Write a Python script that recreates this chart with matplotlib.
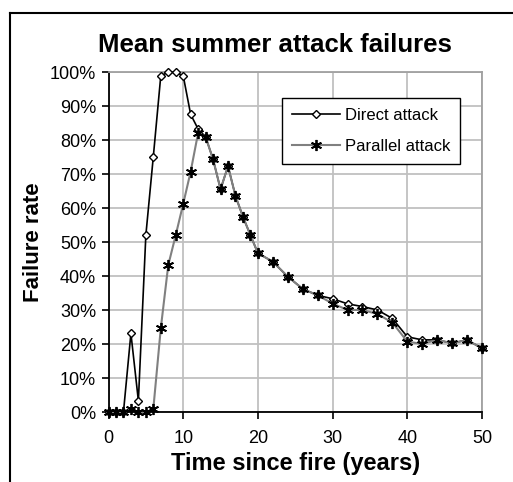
import matplotlib
matplotlib.use("Agg")
import matplotlib.pyplot as plt
from matplotlib.lines import Line2D
from matplotlib.ticker import FuncFormatter

plt.rcParams['font.family'] = ['Liberation Sans', 'DejaVu Sans']

years = [0, 1, 2, 3, 4, 5, 6, 7, 8, 9, 10, 11, 12, 13, 14, 15, 16, 17, 18, 19, 20,
         22, 24, 26, 28, 30, 32, 34, 36, 38, 40, 42, 44, 46, 48, 50]
direct = [0, 0, 0, 23.2, 3.4, 52.1, 75.2, 99.0, 100, 100, 99.0, 87.6, 83.3, 81.0, 74.4,
          65.6, 72.4, 63.6, 57.5, 52.1, 46.8, 44.3, 39.9, 36.3, 34.4, 33.4, 31.9, 31.1,
          30.1, 27.6, 22.2, 21.3, 21.3, 20.3, 21.3, 18.8]
parallel = [0, 0, 0, 1.0, 0, 0, 1.0, 24.7, 43.3, 52.1, 61.3, 70.8, 82.2, 81.0, 74.4,
            65.6, 72.4, 63.6, 57.5, 52.1, 46.8, 44.3, 39.9, 36.3, 34.4, 32.0, 30.1, 30.1,
            28.9, 26.4, 20.8, 20.1, 21.3, 20.3, 21.3, 18.8]

title = "Mean summer attack failures"
xlabel = "Time since fire (years)"
ylabel = "Failure rate"
labels = ["Direct attack", "Parallel attack"]

fig = plt.figure(figsize=(5.13, 4.82), dpi=100)
ax = fig.add_axes([108.5/513, 1-412.3/482, (482-108.5)/513, (412.3-72.3)/482])

grid_c = '#c0c0c0'
ax.plot(years, direct, color='black', lw=1.2, marker='D', markersize=4.2,
        markerfacecolor='white', markeredgecolor='black', markeredgewidth=1.0,
        label=labels[0], zorder=3, clip_on=False)
ax.plot(years, parallel, color='#808080', lw=1.5, marker=(6, 2, 0), markersize=8,
        markeredgecolor='black', markerfacecolor='black', markeredgewidth=1.3,
        label=labels[1], zorder=4, clip_on=False)

ax.set_xlim(0, 50)
ax.set_ylim(0, 100)
ax.set_xticks(range(0, 51, 10))
ax.set_yticks(range(0, 101, 10))
ax.yaxis.set_major_formatter(FuncFormatter(lambda v, p: f"{int(v)}%"))
ax.grid(True, color=grid_c, lw=1.3)
ax.set_axisbelow(True)
for s in ['top', 'right']:
    ax.spines[s].set_color('#a0a0a0')
    ax.spines[s].set_linewidth(1.3)
for s in ['left', 'bottom']:
    ax.spines[s].set_color('black')
    ax.spines[s].set_linewidth(1.3)
ax.tick_params(axis='both', direction='out', length=5, width=1.2, labelsize=13,
               color='black', pad=4)
ax.tick_params(axis='x', pad=8)

ax.set_xlabel(xlabel, fontsize=17, fontweight='bold', labelpad=3)
ax.set_ylabel(ylabel, fontsize=16, fontweight='bold', labelpad=4)
fig.text(275/513, 1-45/482, title, fontsize=18.5, fontweight='bold',
         ha='center', va='center')

leg = ax.legend(loc='upper left', bbox_to_anchor=((281.7-108.5)/(482-108.5), 1-(98.3-72.3)/340),
                fontsize=12, frameon=True, fancybox=False, edgecolor='black',
                handlelength=2.9, borderaxespad=0, handletextpad=0.3,
                borderpad=0.6, labelspacing=0.95)
leg.get_frame().set_linewidth(1.0)
leg.get_frame().set_alpha(1)

# outer chart border (top and left edges visible)
fig.add_artist(Line2D([9.5/513, 1.0], [1-12.5/482, 1-12.5/482], color='black', lw=1.5,
                      transform=fig.transFigure))
fig.add_artist(Line2D([9.5/513, 9.5/513], [0, 1-12.5/482], color='black', lw=1.5,
                      transform=fig.transFigure))

fig.savefig("out.png", dpi=100)
